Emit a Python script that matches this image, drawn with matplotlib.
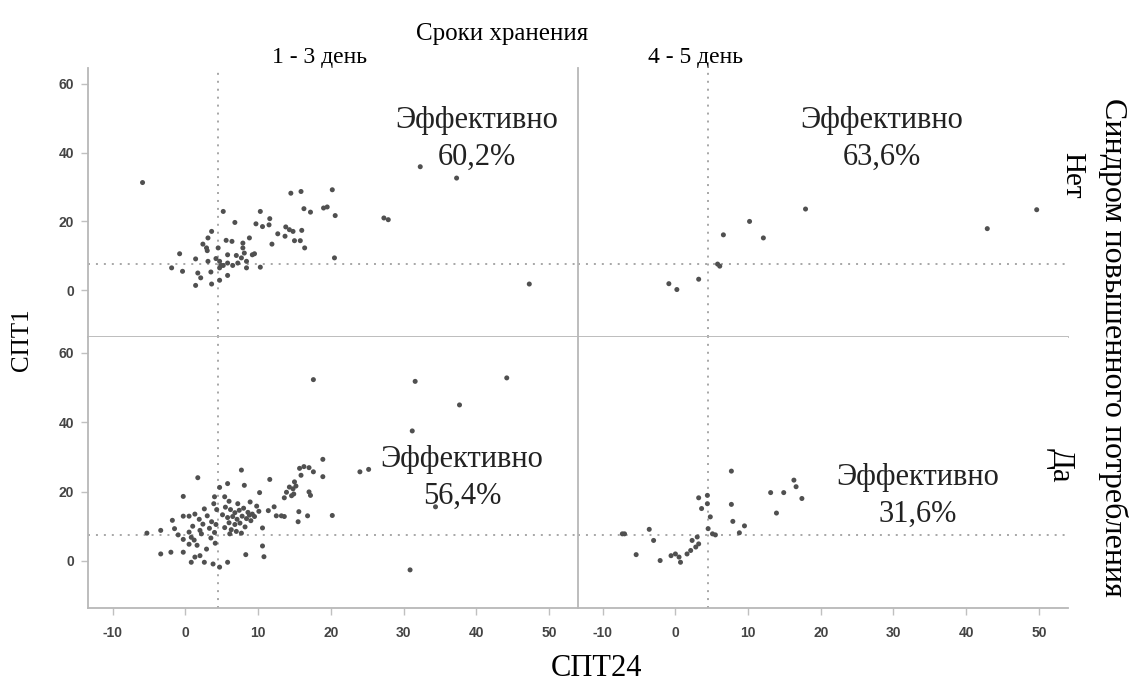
import matplotlib.pyplot as plt

plt.rcParams['axes.unicode_minus'] = False

# storage period columns and syndrome rows
col_labels = ['1 - 3 день', '4 - 5 день']
row_labels = ['Нет', 'Да']
effect_labels = [['60,2%', '63,6%'], ['56,4%', '31,6%']]

x_cut = 4.5
y_cut = 7.5

# 1-3 day, no syndrome
tl_x = [-5.9, 32.3, 37.3, 47.3, 27.3, 27.9, 20.2, 20.6, 19.5, 19.0,
        20.5, 14.5, 15.9, 16.3, 17.2, 10.3, 11.6, 9.7, 10.6, 11.5,
        6.8, 5.2, 12.7, 13.8, 14.3, 14.8, 16.0, 13.7, 15.0, 15.8,
        16.4, 11.9, 8.8, 7.9, 5.6, 6.4, 3.6, 3.1, 2.4, 2.9,
        3.0, 4.5, 7.9, 8.1, 9.5, 9.2, 5.8, 7.0, 7.7, 8.4,
        6.5, 7.2, 8.4, 10.3, -0.8, 1.4, 3.1, 4.2, 4.7, 4.9,
        5.8, -1.9, -0.4, 1.7, 2.1, 3.5, 4.7, 5.2, 5.8, 4.7,
        3.6, 1.4]
tl_y = [31.3, 35.9, 32.6, 1.8, 21.0, 20.5, 29.2, 21.7, 24.2, 23.9,
        9.4, 28.2, 28.7, 23.7, 22.7, 22.9, 20.8, 19.3, 18.5, 19.0,
        19.7, 22.9, 16.4, 18.4, 17.6, 17.1, 17.4, 15.7, 14.4, 14.4,
        12.3, 13.4, 15.2, 13.7, 14.5, 14.2, 17.1, 15.2, 13.4, 12.3,
        11.5, 12.3, 12.3, 10.8, 10.6, 10.3, 10.3, 10.1, 9.4, 8.4,
        7.2, 7.9, 6.5, 6.7, 10.6, 9.1, 8.4, 9.2, 8.4, 7.2,
        7.9, 6.5, 5.5, 5.0, 3.6, 5.3, 6.5, 7.2, 4.3, 2.9,
        1.8, 1.4]

# 4-5 day, no syndrome
tr_x = [-0.9, 0.2, 3.2, 5.8, 6.1, 6.6, 10.2, 12.1, 17.9, 42.9, 49.7]
tr_y = [1.9, 0.2, 3.2, 7.6, 7.0, 16.1, 20.0, 15.2, 23.6, 17.9, 23.4]

# 1-3 day, syndrome
bl_x = [17.6, 31.6, 44.2, 37.7, 31.2, 30.9, 34.4, 24.0, 25.2, 18.9,
        18.9, 20.2, 17.6, 17.0, 16.3, 15.7, 15.9, 15.0, 14.3, 14.8,
        13.9, 14.9, 14.6, 13.6, 15.2, 17.0, 17.2, 11.6, 10.2, 7.7,
        8.1, 1.7, -0.3, 4.7, 5.8, 4.0, 5.4, 12.2, 13.2, 12.5,
        11.4, 13.6, 15.6, 16.8, 15.5, 10.6, 10.6, 10.8, 8.3, 5.5,
        6.2, 6.8, 7.4, 8.0, 8.6, 9.2, 9.8, 5.8, 6.5, 7.1,
        7.8, 8.4, 9.0, 6.0, 6.8, 7.5, 8.2, 5.4, 6.3, 7.0,
        8.8, 9.5, 7.2, 6.0, 8.9, 5.1, 10.1, 7.7, 6.1, -5.3,
        -3.4, -3.4, -2.0, -1.8, -1.5, -0.3, 0.5, -1.0, -0.3, 0.5,
        0.8, -0.3, 0.8, 1.3, 2.0, 2.6, 3.8, 4.7, 5.8, 2.9,
        1.6, 0.5, 1.3, 1.9, 2.4, 3.0, 3.3, 3.6, 2.6, 2.2,
        3.9, 4.3, 3.5, 4.1, 2.0, 1.0, 4.2, 4.0, 1.2]
bl_y = [52.3, 51.8, 52.8, 45.0, 37.5, -2.6, 15.6, 25.7, 26.4, 29.3,
        24.3, 13.1, 25.7, 26.9, 27.2, 26.7, 24.7, 22.8, 21.3, 20.8,
        19.8, 19.3, 18.8, 18.2, 21.6, 19.9, 18.9, 23.5, 19.7, 26.2,
        21.8, 24.0, 18.6, 21.2, 22.3, 18.5, 18.5, 15.6, 13.0, 13.0,
        14.5, 12.8, 14.2, 13.0, 11.3, 9.5, 4.3, 1.2, 1.8, 15.5,
        14.8, 13.9, 14.6, 15.2, 14.0, 13.5, 15.8, 12.5, 12.8, 12.0,
        12.9, 12.2, 11.6, 11.0, 10.5, 10.9, 9.8, 9.6, 9.0, 8.5,
        13.2, 12.8, 16.5, 17.2, 17.0, 13.3, 14.3, 8.0, 7.8, 8.0,
        8.8, 2.0, 2.5, 11.7, 9.3, 12.9, 12.9, 7.5, 6.2, 8.3,
        6.8, 2.5, -0.4, 1.1, 1.5, -0.4, -0.9, -1.8, -0.4, 3.4,
        4.5, 4.8, 13.5, 12.0, 10.6, 13.0, 9.4, 11.3, 15.0, 7.8,
        16.5, 14.8, 6.6, 5.1, 8.8, 10.0, 10.5, 8.2, 6.0]

# 4-5 day, syndrome
br_x = [7.7, 16.3, 16.6, 17.4, 13.1, 14.9, 13.9, 7.7, 7.9, 9.5,
        8.8, 3.2, 4.4, 4.4, 3.6, 4.8, 4.5, 5.1, 5.5, -7.0,
        -7.3, -3.6, -3.0, -5.4, -2.1, -0.6, 0.0, 0.7, 0.5, 1.6,
        2.1, 2.8, 2.3, 3.0, 3.2]
br_y = [25.9, 23.3, 21.4, 18.0, 19.7, 19.7, 13.8, 16.3, 11.4, 10.1,
        8.1, 18.2, 18.9, 16.5, 15.1, 12.7, 9.3, 7.8, 7.5, 7.8,
        7.8, 9.1, 5.9, 1.8, 0.1, 1.5, 2.0, -0.4, 1.1, 2.0,
        3.0, 4.0, 5.9, 6.9, 4.9]

panels = [[(tl_x, tl_y), (tr_x, tr_y)], [(bl_x, bl_y), (br_x, br_y)]]
# centres of the "Эффективно" notes, in figure pixels
text_pos = [[(477, 139), (882, 139)], [(462, 478), (918, 496)]]

serif = ['Liberation Serif', 'DejaVu Serif']
spine_col = '#b8b8b8'
W, H = 1130, 684

fig = plt.figure(figsize=(11.3, 6.84), dpi=100)
lefts = [0.0779, 0.5115]
bottoms = [0.5073, 0.1111]
heights = [0.3933, 0.3962]
w = 0.4336

for r in range(2):
    for c in range(2):
        ax = fig.add_axes([lefts[c], bottoms[r], w, heights[r]])
        xs, ys = panels[r][c]
        ax.axvline(x_cut, color='#909090', ls=(0, (1.3, 3.9)), lw=1.1, zorder=1)
        ax.axhline(y_cut, color='#909090', ls=(0, (1.3, 3.9)), lw=1.1, zorder=1)
        ax.scatter(xs, ys, s=13, color='#505050', edgecolors='none', zorder=3)
        ax.set_xlim(-13.4, 54.0)
        ax.set_ylim(-13.6, 64.6)
        for s in ['top', 'right']:
            ax.spines[s].set_visible(False)
        for s in ['left', 'bottom']:
            ax.spines[s].set_color(spine_col)
            ax.spines[s].set_linewidth(1.3)
        ax.set_xticks([-10, 0, 10, 20, 30, 40, 50])
        ax.set_yticks([0, 20, 40, 60])
        ax.tick_params(colors='#c0c0c0', length=5, width=1,
                       labelcolor='#444444', labelsize=10)
        ax.tick_params(axis='x', pad=8)
        ax.tick_params(axis='y', pad=5)
        for lab in ax.get_xticklabels() + ax.get_yticklabels():
            lab.set_fontweight('bold')
            lab.set_family('Liberation Sans')
        if r == 0:
            ax.tick_params(axis='x', bottom=False, labelbottom=False)
        if c == 1:
            ax.tick_params(axis='y', left=False, labelleft=False)
        tx, ty = text_pos[r][c]
        fig.text(tx / W, 1 - ty / H, 'Эффективно\n' + effect_labels[r][c],
                 ha='center', va='center', family=serif, fontsize=22,
                 linespacing=1.38, color='#222222', zorder=4)

fig.text(502 / W, 1 - 34 / H, 'Сроки хранения', ha='center', va='center',
         family=serif, fontsize=18)
fig.text(320 / W, 1 - 57 / H, col_labels[0], ha='center', va='center',
         family=serif, fontsize=17)
fig.text(695 / W, 1 - 57 / H, col_labels[1], ha='center', va='center',
         family=serif, fontsize=17)
fig.text(597 / W, 1 - 668 / H, 'СПТ24', ha='center', va='center',
         family=serif, fontsize=22)
fig.text(22 / W, 1 - 340 / H, 'СПТ1', ha='center', va='center',
         rotation=90, family=serif, fontsize=18)
fig.text(1113 / W, 1 - 347 / H, 'Синдром повышенного потребления',
         ha='center', va='center', rotation=-90, family=serif, fontsize=23)
fig.text(1072 / W, 1 - 175 / H, row_labels[0], ha='center', va='center',
         rotation=-90, family=serif, fontsize=21)
fig.text(1060 / W, 1 - 465 / H, row_labels[1], ha='center', va='center',
         rotation=-90, family=serif, fontsize=22)

fig.savefig('out.png', dpi=100)
